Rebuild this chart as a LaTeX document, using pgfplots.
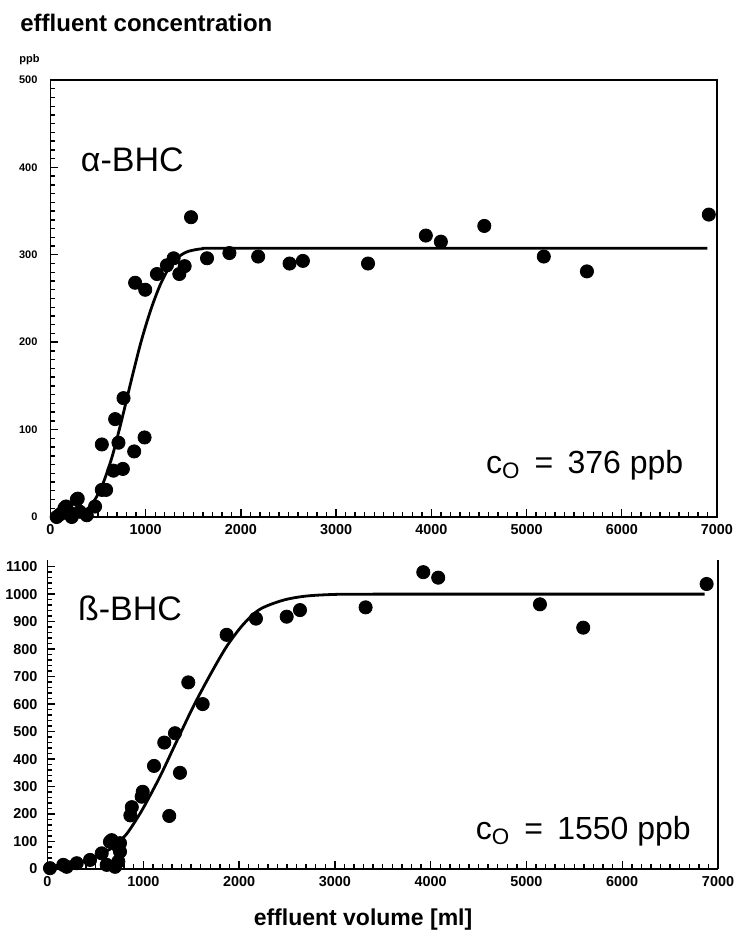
\documentclass[border=0pt]{standalone}
\usepackage{fontspec}
\setmainfont{Liberation Sans}
\usepackage{pgfplots}
\pgfplotsset{compat=1.18}

\pgfplotsset{
  panel/.style={
    scale only axis,
    xmin=0, xmax=7000,
    xtick={0,1000,...,7000},
    minor x tick num=9,
    tick align=inside,
    xtick pos=bottom, ytick pos=left,
    major tick length=4pt, minor tick length=2.5pt,
    axis line style={line width=0.9pt},
    every tick/.style={black, line width=0.7pt},
    xticklabel style={font=\bfseries\fontsize{7.2}{8}\selectfont},
    /pgf/number format/assume math mode=true,
    /pgf/number format/1000 sep={},
    clip=false,
  },
  dots/.style={only marks, mark=*, mark size=3.3pt, black},
  fit/.style={black, line width=1.4pt, smooth, tension=0.5, no marks},
}

\begin{document}
\begin{tikzpicture}
\useasboundingbox (0pt,0pt) rectangle (369pt,470pt);

\node[anchor=base west, font=\bfseries\fontsize{12}{14}\selectfont, inner sep=0pt] at (10pt,454pt) {effluent concentration};
\node[anchor=base west, font=\bfseries\fontsize{5.5}{6}\selectfont, inner sep=0pt] at (9.5pt,438.5pt) {ppb};
\node[anchor=base, font=\bfseries\fontsize{11.5}{13}\selectfont, inner sep=0pt] at (181.5pt,7pt) {effluent volume [ml]};

% alpha-BHC
\begin{axis}[panel,
  at={(25.25pt,211.5pt)}, anchor=south west,
  width=333.25pt, height=218.5pt,
  ymin=0, ymax=500,
  ytick={0,100,...,500}, minor y tick num=9,
  yticklabel style={font=\bfseries\fontsize{5.5}{6}\selectfont, xshift=-3pt},
]
\addplot[dots] coordinates {
  (65,0) (100,3) (146,10) (163,12) (200,5) (223,0) (276,20) (286,21)
  (308,6) (381,2) (468,12) (539,31) (584,31) (539,83) (661,53) (760,55)
  (679,112) (714,85) (767,136) (879,75) (988,91) (889,268) (995,260)
  (1118,278) (1223,288) (1293,296) (1353,278) (1409,287) (1476,343)
  (1644,296) (1879,302) (2181,298) (2511,290) (2651,293) (3335,290)
  (3942,322) (4100,315) (4556,333) (5181,298) (5634,281) (6914,346)
};
\addplot[fit] coordinates {
  (150,0.5) (250,2) (350,6) (450,17) (550,38) (650,70) (750,112) (850,157)
  (950,200) (1050,236) (1150,265) (1250,286) (1350,298) (1450,304)
  (1600,307) (1800,307.5) (4000,307.5) (6900,307.5)
};
\node[anchor=base west, font=\fontsize{17}{20}\selectfont] at (rel axis cs:0.035,0.79) {α-BHC};
\node[anchor=base east, font=\fontsize{16}{19}\selectfont] at (rel axis cs:0.96,0.1) {c\textsubscript{O}\, =\, 376 ppb};
\end{axis}

% beta-BHC
\begin{axis}[panel,
  at={(23.75pt,35.5pt)}, anchor=south west,
  width=335.25pt, height=154.6pt,
  ymin=0, ymax=1125,
  axis x line*=bottom, axis y line*=box,
  xtick pos=bottom, ytick pos=left,
  ytick={0,100,...,1100}, minor y tick num=4,
  yticklabel style={font=\bfseries\fontsize{7.2}{8}\selectfont, xshift=-1.5pt},
]
\addplot[dots] coordinates {
  (26,3) (165,15) (200,8) (305,21) (444,33) (566,57) (618,15) (652,99)
  (670,105) (705,8) (739,81) (739,27) (757,94) (757,63) (865,195) (880,225)
  (983,263) (994,281) (1112,375) (1219,460) (1271,193) (1331,494)
  (1383,350) (1470,679) (1620,600) (1870,852) (2176,911) (2497,918)
  (2636,942) (3321,952) (3923,1080) (4079,1060) (5141,963) (5593,878)
  (6881,1037)
};
\addplot[fit] coordinates {
  (0,3) (200,12) (374,27) (500,45) (652,72) (750,100) (827,128) (900,165)
  (1000,222) (1174,336) (1349,465) (1522,591) (1696,705) (1871,810)
  (2044,890) (2218,945) (2461,978) (2700,993) (3000,999) (3400,1000) (6860,1000)
};
\node[anchor=base west, font=\fontsize{17}{20}\selectfont] at (rel axis cs:0.035,0.805) {ß-BHC};
\node[anchor=base east, font=\fontsize{16}{19}\selectfont] at (rel axis cs:0.97,0.095) {c\textsubscript{O}\, =\, 1550 ppb};
\end{axis}
\end{tikzpicture}
\end{document}
